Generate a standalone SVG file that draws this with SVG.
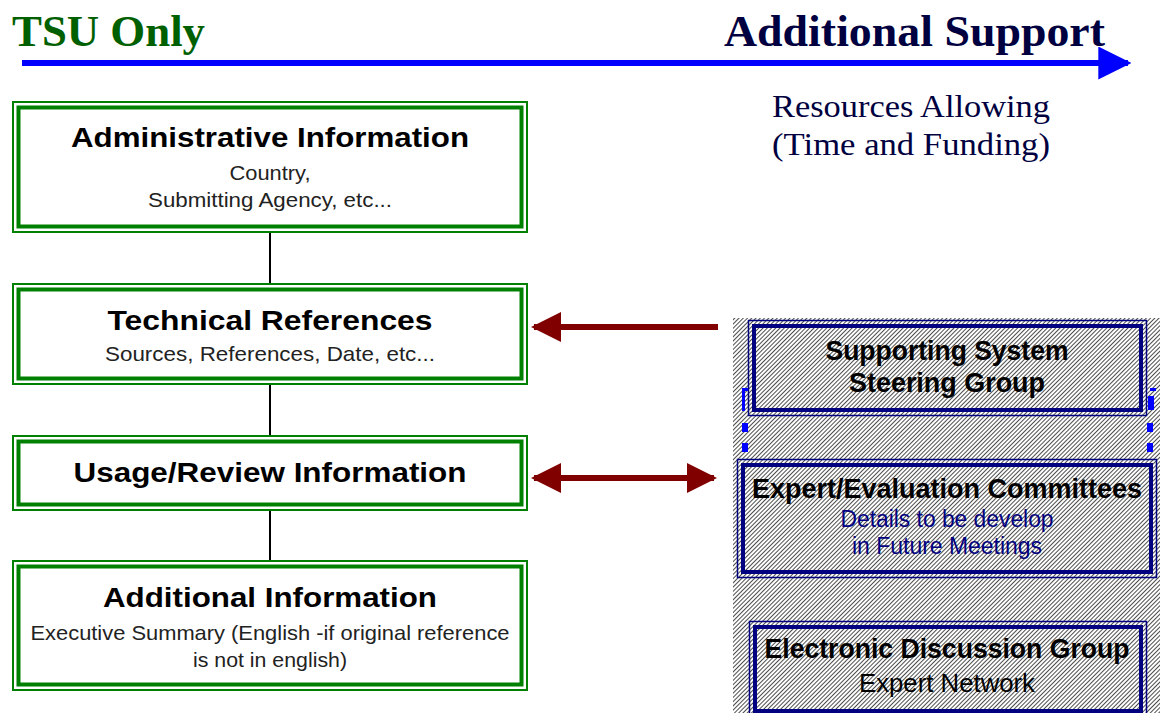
<svg xmlns="http://www.w3.org/2000/svg" width="1160" height="713" viewBox="0 0 1160 713">
<defs>
<pattern id="hatch" width="3" height="3" patternUnits="userSpaceOnUse" patternTransform="rotate(45)">
<rect width="3" height="3" fill="#ffffff"/>
<line x1="0" y1="0" x2="0" y2="3" stroke="#111" stroke-width="1.5"/>
</pattern>
<marker id="redHead" viewBox="0 0 10 10" refX="9" refY="5" markerWidth="5" markerHeight="5" orient="auto-start-reverse" markerUnits="strokeWidth">
<path d="M0,0 L10,5 L0,10 Z" fill="#800000"/>
</marker>
<marker id="blueHead" viewBox="0 0 10 10" refX="9" refY="5" markerWidth="5.5" markerHeight="5.5" orient="auto" markerUnits="strokeWidth">
<path d="M0,0 L10,5 L0,10 Z" fill="#0000ff"/>
</marker>
</defs>
<style>
.gOut{fill:#fff;stroke:#008000;stroke-width:2}
.gIn{fill:none;stroke:#008000;stroke-width:4}
.bOut{fill:none;stroke:#000080;stroke-width:1.5}
.bIn{fill:none;stroke:#000080;stroke-width:4}
.ttl{font-family:"Liberation Sans",Arial,sans-serif;font-weight:bold;font-size:28px;fill:#000;text-anchor:middle}
.sub{font-family:"Liberation Sans",Arial,sans-serif;font-size:21px;fill:#222;text-anchor:middle}
.rttl{font-family:"Liberation Sans",Arial,sans-serif;font-weight:bold;font-size:27px;fill:#000;text-anchor:middle}
.rsub{font-family:"Liberation Sans",Arial,sans-serif;font-size:23px;fill:#000;text-anchor:middle}
.head{font-family:"Liberation Serif","Times New Roman",serif;font-weight:bold;font-size:45px}
.res{font-family:"Liberation Serif","Times New Roman",serif;font-size:32px;fill:#000040;text-anchor:middle}
.handle{fill:#0000ff}
</style>

<g id="headings">
<text class="head" x="12" y="46" fill="#006000" textLength="193" lengthAdjust="spacingAndGlyphs">TSU Only</text>
<text class="head" x="724" y="46" fill="#000040" textLength="381" lengthAdjust="spacingAndGlyphs">Additional Support</text>
<text class="res" x="911" y="117" textLength="278" lengthAdjust="spacingAndGlyphs">Resources Allowing</text>
<text class="res" x="911" y="155" textLength="278" lengthAdjust="spacingAndGlyphs">(Time and Funding)</text>
</g>

<rect id="support-area" x="733" y="318" width="427" height="395" fill="url(#hatch)"/>

<g id="connectors">
<line x1="22" y1="63" x2="1128" y2="63" stroke="#0000ff" stroke-width="6" marker-end="url(#blueHead)"/>
<line x1="270" y1="233" x2="270" y2="283" stroke="#000" stroke-width="2"/>
<line x1="270" y1="385" x2="270" y2="435" stroke="#000" stroke-width="2"/>
<line x1="270" y1="511" x2="270" y2="560" stroke="#000" stroke-width="2"/>
<line x1="718" y1="327" x2="534" y2="327" stroke="#800000" stroke-width="6" marker-end="url(#redHead)"/>
<line x1="534" y1="478" x2="714" y2="478" stroke="#800000" stroke-width="6" marker-start="url(#redHead)" marker-end="url(#redHead)"/>
</g>

<g id="admin">
<rect class="gOut" x="13" y="102" width="514" height="130"/>
<rect class="gIn" x="18.5" y="107.5" width="503" height="119"/>
<text class="ttl" x="270" y="147" textLength="398" lengthAdjust="spacingAndGlyphs">Administrative Information</text>
<text class="sub" x="270" y="180" textLength="81" lengthAdjust="spacingAndGlyphs">Country,</text>
<text class="sub" x="270" y="207" textLength="244" lengthAdjust="spacingAndGlyphs">Submitting Agency, etc...</text>
</g>

<g id="technical">
<rect class="gOut" x="13" y="284" width="514" height="100"/>
<rect class="gIn" x="18.5" y="289.5" width="503" height="89"/>
<text class="ttl" x="270" y="330" textLength="325" lengthAdjust="spacingAndGlyphs">Technical References</text>
<text class="sub" x="270" y="361" textLength="330" lengthAdjust="spacingAndGlyphs">Sources, References, Date, etc...</text>
</g>

<g id="usage">
<rect class="gOut" x="13" y="436" width="514" height="74"/>
<rect class="gIn" x="18.5" y="441.5" width="503" height="63"/>
<text class="ttl" x="270" y="482" textLength="393" lengthAdjust="spacingAndGlyphs">Usage/Review Information</text>
</g>

<g id="additional">
<rect class="gOut" x="13" y="561" width="514" height="129"/>
<rect class="gIn" x="18.5" y="566.5" width="503" height="118"/>
<text class="ttl" x="270" y="607" textLength="334" lengthAdjust="spacingAndGlyphs">Additional Information</text>
<text class="sub" x="270" y="640" textLength="479" lengthAdjust="spacingAndGlyphs">Executive Summary (English -if original reference</text>
<text class="sub" x="270" y="667" textLength="154" lengthAdjust="spacingAndGlyphs">is not in english)</text>
</g>

<g id="steering">
<rect class="bOut" x="748.5" y="320.5" width="398" height="95"/>
<rect class="bIn" x="754" y="326" width="387" height="84"/>
<text class="rttl" x="947" y="360" textLength="243" lengthAdjust="spacingAndGlyphs">Supporting System</text>
<text class="rttl" x="947" y="392" textLength="196" lengthAdjust="spacingAndGlyphs">Steering Group</text>
</g>

<g id="handles">
<path class="handle" d="M742,388 h6 v3 h-3 v20 h-3 z"/>
<rect class="handle" x="742" y="423" width="6" height="9"/>
<rect class="handle" x="742" y="443" width="6" height="9"/>
<path class="handle" d="M1150,388 h6 v3 h-6 z"/>
<rect class="handle" x="1148" y="396" width="6" height="14"/>
<rect class="handle" x="1147" y="423" width="6" height="9"/>
<rect class="handle" x="1147" y="443" width="6" height="9"/>
</g>

<g id="committees">
<rect class="bOut" x="737.5" y="459.5" width="419" height="118"/>
<rect class="bIn" x="743" y="465" width="408" height="107"/>
<text class="rttl" x="947" y="498" textLength="390" lengthAdjust="spacingAndGlyphs">Expert/Evaluation Committees</text>
<text class="rsub" x="947" y="527" style="fill:#000080" textLength="213" lengthAdjust="spacingAndGlyphs">Details to be develop</text>
<text class="rsub" x="947" y="554" style="fill:#000080" textLength="190" lengthAdjust="spacingAndGlyphs">in Future Meetings</text>
</g>

<g id="discussion">
<rect class="bOut" x="749.5" y="621.5" width="397" height="95"/>
<rect class="bIn" x="755" y="627" width="386" height="84"/>
<text class="rttl" x="947" y="658" textLength="365" lengthAdjust="spacingAndGlyphs">Electronic Discussion Group</text>
<text class="rsub" x="947" y="692" style="font-size:25px" textLength="176" lengthAdjust="spacingAndGlyphs">Expert Network</text>
</g>
</svg>
